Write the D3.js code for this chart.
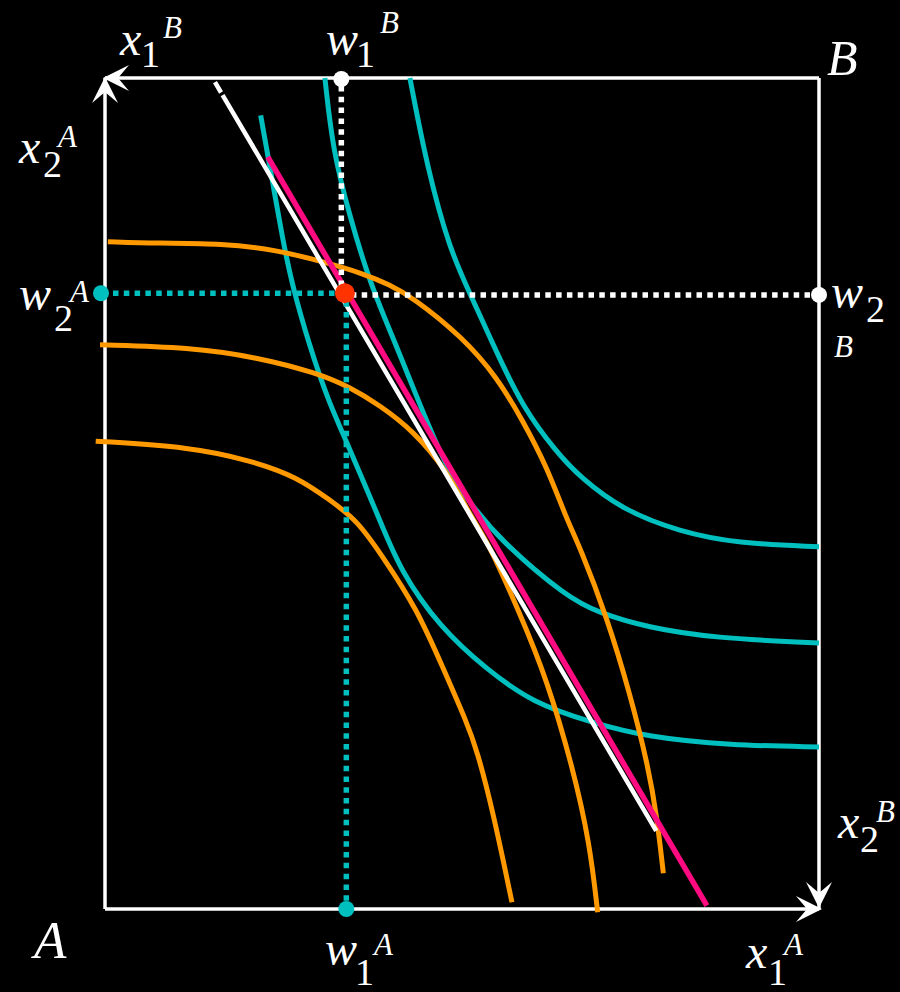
<!DOCTYPE html>
<html><head><meta charset="utf-8">
<script src="https://cdn.jsdelivr.net/npm/d3@7"></script>
<style>html,body{margin:0;padding:0;background:#000;}svg{display:block;}
text{font-family:"Liberation Serif","DejaVu Serif","Times New Roman",Times,serif;}</style>
</head><body>
<script>
// Edgeworth box, coordinates in box units (0..100) from origin A
const tealX1 = [21.8,23.1,24.9,26.2,28.7,31.2,33.9,38.5,41.3,46.9,53.5,59.9,68.3,75.9,87.5,100];
const tealY1 = [95.5,89.3,80.5,75.1,67.6,61.3,56.1,46.8,40.8,33.9,28.8,24.8,22.4,20.7,19.7,19.5];
const tealX2 = [30.8,31.9,34.3,37.1,40.9,43.1,47.9,51.1,55.3,64.7,69.3,75.9,85.2,100];
const tealY2 = [100,91.3,83.3,75.3,67.6,62.8,52.8,48.9,44.4,37.5,35.6,33.9,32.6,32.0];
const tealX3 = [42.7,45.1,48.3,51.1,54.9,58.5,63.3,66.5,72.5,80.5,88.5,100];
const tealY3 = [100,89.3,79.3,74.1,66.9,60.4,54.9,52.0,48.0,45.4,44.0,43.6];
const orangeX1 = [0.4,7.3,16.5,24.1,30.5,36.1,39.9,43.1,50.1,54.9,58.5,61.9,64.7,66.5,70.3,73.5,76.1,77.3,78.2];
const orangeY1 = [80.3,80.1,80.1,79.3,77.9,76.5,75.1,73.6,68.8,64.0,58.8,53.2,46.8,43.6,35.1,26.0,17.1,11.1,4.3];
const orangeX2 = [-0.7,11.9,21.3,29.7,34.3,38.5,43.1,47.9,51.5,53.5,58.1,61.9,65.5,67.9,69.0];
const orangeY2 = [67.9,67.6,66.4,64.5,62.8,60.6,57.6,52.8,46.8,44.4,35.6,27.6,17.1,7.9,-0.4];
const orangeX3 = [-1.3,11.9,20.3,26.9,31.5,35.3,38.9,43.7,47.3,50.7,52.1,54.3,57.0];
const orangeY3 = [56.3,55.6,54.0,52.0,49.2,46.8,42.4,36.1,29.1,22.4,19.1,11.9,0.8];
const budgetWhite = [[15.4,99.5],[77.2,9.4]];
const budgetPink = [[22.8,90.5],[84.3,0.4]];
const endowment = [33.6,74.1];
const w1B = 33.1, w1A = 33.8, w2A = 74.1, w2B = 73.9;

const W = 900, H = 992;
const svg = d3.select("body").append("svg").attr("width", W).attr("height", H)
  .style("background", "#000");
svg.append("rect").attr("width", W).attr("height", H).attr("fill", "#000");

const x = d3.scaleLinear().domain([0,100]).range([105,819]);
const y = d3.scaleLinear().domain([0,100]).range([909,78]);

const TEAL = "#00BFBF", ORANGE = "#FF9900", PINK = "#FF0A80", RED = "#FF3300";

const line = d3.line().x(d => x(d[0])).y(d => y(d[1])).curve(d3.curveBasis);
const zip = (a, b) => a.map((v, i) => [v, b[i]]);

// box
const box = svg.append("g").attr("stroke", "#fff").attr("stroke-width", 3.5).attr("fill", "none");
box.append("line").attr("x1", x(0)).attr("x2", x(100)).attr("y1", y(0)).attr("y2", y(0));
box.append("line").attr("x1", x(0)).attr("x2", x(100)).attr("y1", y(100)).attr("y2", y(100));
box.append("line").attr("x1", x(0)).attr("x2", x(0)).attr("y1", y(0)).attr("y2", y(100));
box.append("line").attr("x1", x(100)).attr("x2", x(100)).attr("y1", y(0)).attr("y2", y(100));

// teal curves
[[tealX1,tealY1],[tealX2,tealY2],[tealX3,tealY3]].forEach(([a,b]) => {
  svg.append("path").attr("d", line(zip(a,b))).attr("fill","none")
    .attr("stroke", TEAL).attr("stroke-width", 5);
});
// orange curves
[[orangeX1,orangeY1],[orangeX2,orangeY2],[orangeX3,orangeY3]].forEach(([a,b]) => {
  svg.append("path").attr("d", line(zip(a,b))).attr("fill","none")
    .attr("stroke", ORANGE).attr("stroke-width", 5);
});

// budget lines
svg.append("line").attr("x1", x(budgetWhite[0][0])).attr("y1", y(budgetWhite[0][1]))
  .attr("x2", x(budgetWhite[1][0])).attr("y2", y(budgetWhite[1][1]))
  .attr("stroke", "#fff").attr("stroke-width", 4.5).attr("stroke-dasharray", "12,3,2000");
svg.append("line").attr("x1", x(budgetPink[0][0])).attr("y1", y(budgetPink[0][1]))
  .attr("x2", x(budgetPink[1][0])).attr("y2", y(budgetPink[1][1]))
  .attr("stroke", PINK).attr("stroke-width", 5.5);

// dotted lines
const dots = svg.append("g").attr("stroke-width", 5.5).attr("stroke-dasharray", "5.5,5.3");
dots.append("line").attr("x1", x(0)+8).attr("x2", x(endowment[0])-6)
  .attr("y1", y(w2A)).attr("y2", y(w2A)).attr("stroke", TEAL);
dots.append("line").attr("x1", x(w1A)).attr("x2", x(w1A))
  .attr("y1", y(endowment[1])+8).attr("y2", y(0)-8).attr("stroke", TEAL);
dots.append("line").attr("x1", x(endowment[0])+6).attr("x2", x(100)-6)
  .attr("y1", y(w2B)).attr("y2", y(w2B)).attr("stroke", "#fff");
dots.append("line").attr("x1", x(w1B)).attr("x2", x(w1B))
  .attr("y1", y(100)+8).attr("y2", y(endowment[1])-7).attr("stroke", "#fff");

// dots
svg.append("circle").attr("cx", x(0)-4).attr("cy", y(w2A)).attr("r", 8).attr("fill", TEAL);
svg.append("circle").attr("cx", x(w1A)).attr("cy", y(0)).attr("r", 8).attr("fill", TEAL);
svg.append("circle").attr("cx", x(w1B)).attr("cy", y(100)+1).attr("r", 8).attr("fill", "#fff");
svg.append("circle").attr("cx", x(100)).attr("cy", y(w2B)).attr("r", 8).attr("fill", "#fff");
svg.append("circle").attr("cx", x(endowment[0])).attr("cy", y(endowment[1])).attr("r", 10).attr("fill", RED);

// arrowheads
function arrow(tx, ty, dx, dy) {
  const L = 26, Wd = 13, N = 15;
  const px = -dy, py = dx;
  const p = [
    [tx, ty],
    [tx - dx*L + px*Wd, ty - dy*L + py*Wd],
    [tx - dx*N, ty - dy*N],
    [tx - dx*L - px*Wd, ty - dy*L - py*Wd]
  ];
  svg.append("path").attr("d", "M" + p.map(q => q.join(",")).join("L") + "Z").attr("fill", "#fff");
}
arrow(x(0), y(100)-1, 0, -1);
arrow(x(0)-2, y(100), -1, 0);
arrow(x(100)+3, y(0), 1, 0);
arrow(x(100), y(0)-1, 0, 1);

// labels
function t(str, px, py, size, italic) {
  svg.append("text").attr("x", px).attr("y", py).text(str)
    .attr("fill", "#fff").attr("font-size", size)
    .style("font-style", italic ? "italic" : "normal");
}
const BIG = 48, SUB = 38, SUP = 31;
// x1^B
t("x", 120, 55, BIG, true); t("1", 141, 67, SUB, false); t("B", 163, 38, SUP, true);
// w1^B
t("w", 326, 55, BIG, true); t("1", 356, 67, SUB, false); t("B", 380, 33, SUP, true);
// B corner
t("B", 827, 75, 50, true);
// x2^A
t("x", 19, 163, BIG, true); t("2", 43, 177, SUB, false); t("A", 58, 147, SUP, true);
// w2^A
t("w", 19, 310, BIG, true); t("2", 54, 331, SUB, false); t("A", 70, 302, SUP, true);
// w2 B (right)
t("w", 831, 308, BIG, true); t("2", 866, 322, SUB, false); t("B", 834, 357, SUP, true);
// x2^B
t("x", 838, 838, BIG, true); t("2", 860, 852, SUB, false); t("B", 876, 822, SUP, true);
// A corner
t("A", 34, 958, 53, true);
// w1^A
t("w", 325, 965, BIG, true); t("1", 355, 985, SUB, false); t("A", 374, 955, SUP, true);
// x1^A
t("x", 746, 968, BIG, true); t("1", 768, 985, SUB, false); t("A", 784, 955, SUP, true);
</script>
</body></html>
